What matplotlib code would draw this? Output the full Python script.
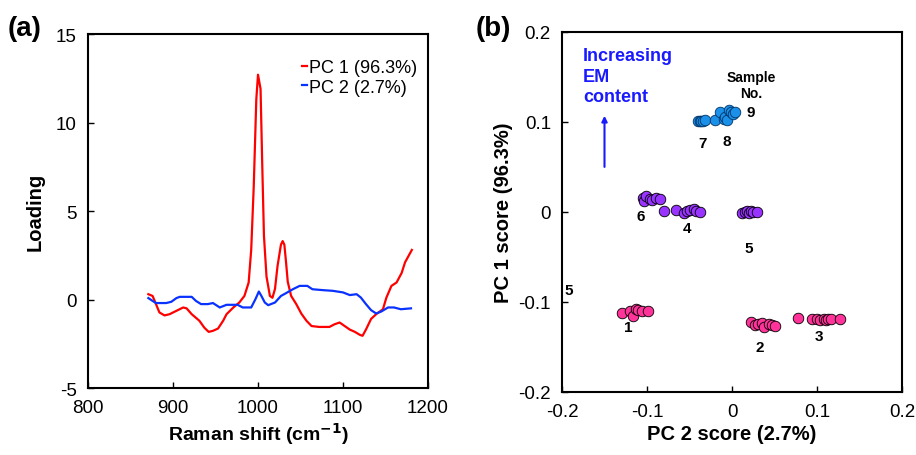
import numpy as np
import matplotlib.pyplot as plt

plt.rcParams['font.family'] = ['Liberation Sans', 'DejaVu Sans']
plt.rcParams['axes.unicode_minus'] = False

# -------------------------------------------
# Data
# -------------------------------------------
# (a) loadings
pc1_shift = [871, 876, 880, 884, 890, 896, 904, 912, 916, 922, 931, 937, 942, 947,
             953, 959, 963, 971, 978, 984, 989, 992, 995, 998, 1000, 1003, 1005,
             1007, 1010, 1014, 1017, 1020, 1023, 1027, 1029, 1031, 1033, 1035,
             1039, 1045, 1051, 1057, 1063, 1072, 1084, 1090, 1096, 1102, 1108,
             1114, 1120, 1123, 1127, 1133, 1139, 1147, 1151, 1157, 1163, 1169,
             1173, 1181]
pc1_load = [0.30, 0.2, -0.26, -0.73, -0.9, -0.83, -0.64, -0.45, -0.5, -0.83, -1.2,
            -1.6, -1.83, -1.77, -1.64, -1.2, -0.83, -0.45, -0.17, 0.2, 0.96, 2.8,
            6.4, 11.3, 12.7, 11.9, 7.6, 3.6, 1.3, 0.2, 0.1, 0.6, 1.9, 3.1, 3.3,
            3.1, 2.1, 1.0, 0.2, -0.26, -0.8, -1.2, -1.5, -1.55, -1.55, -1.4, -1.3,
            -1.5, -1.7, -1.83, -2.0, -2.05, -1.7, -1.1, -0.83, -0.55, 0.1, 0.77,
            0.96, 1.5, 2.1, 2.8]

pc2_shift = [871, 876, 880, 892, 898, 904, 908, 922, 927, 933, 941, 947, 955, 963,
             976, 982, 992, 997, 1001, 1004, 1008, 1012, 1020, 1027, 1033, 1041,
             1049, 1058, 1064, 1076, 1088, 1100, 1108, 1116, 1121, 1127, 1133,
             1139, 1145, 1153, 1160, 1168, 1180]
pc2_load = [0.08, -0.08, -0.2, -0.2, -0.13, 0.08, 0.15, 0.15, -0.08, -0.26, -0.26,
            -0.2, -0.45, -0.3, -0.3, -0.45, -0.45, 0.02, 0.45, 0.2, -0.17, -0.32,
            -0.17, 0.2, 0.36, 0.58, 0.77, 0.77, 0.58, 0.53, 0.49, 0.4, 0.25, 0.3,
            0.11, -0.26, -0.6, -0.79, -0.68, -0.45, -0.45, -0.55, -0.5]

# (b) scores: (PC 2, PC 1)
pink_pc2 = [-0.129, -0.120, -0.117, -0.113, -0.111, -0.106, -0.099,
            0.022, 0.027, 0.031, 0.035, 0.038, 0.043, 0.047, 0.051,
            0.078, 0.094, 0.100, 0.104, 0.108, 0.110, 0.113, 0.117, 0.127]
pink_pc1 = [-0.1125, -0.110, -0.1155, -0.108, -0.109, -0.110, -0.110,
            -0.122, -0.126, -0.124, -0.123, -0.1275, -0.124, -0.125, -0.1265,
            -0.118, -0.119, -0.119, -0.1195, -0.119, -0.120, -0.119, -0.1185, -0.119]

purple_pc2 = [-0.105, -0.103, -0.101, -0.097, -0.094, -0.090, -0.085,
              -0.080, -0.066, -0.056, -0.053, -0.049, -0.045, -0.042, -0.038,
              0.012, 0.015, 0.018, 0.020, 0.022, 0.025, 0.029]
purple_pc1 = [0.016, 0.012, 0.018, 0.014, 0.013, 0.016, 0.014,
              0.001, 0.002, -0.001, 0.001, 0.002, 0.003, 0.001, 0.000,
              -0.001, 0.000, 0.001, -0.001, 0.001, 0.000, 0.000]

blue_pc2 = [-0.040, -0.038, -0.036, -0.034, -0.032, -0.020, -0.014, -0.010,
            -0.008, -0.006, -0.004, -0.001, 0.001, 0.004]
blue_pc1 = [0.101, 0.101, 0.101, 0.1015, 0.102, 0.102, 0.111, 0.103,
            0.106, 0.102, 0.113, 0.111, 0.109, 0.111]

sample_no = ['1', '2', '3', '4', '5', '6', '7', '8', '9', '5']
sample_x = [-0.122, 0.0325, 0.1027, -0.053, 0.0196, -0.108, -0.0345, -0.0067, 0.0216, -0.192]
sample_y = [-0.1276, -0.1496, -0.1375, -0.018, -0.040, -0.004, 0.0768, 0.0787, 0.1107, -0.087]

# -------------------------------------------
# Figure
# -------------------------------------------
fig = plt.figure(figsize=(9.16, 4.56), dpi=100)
ax1 = fig.add_axes([88 / 916, 1 - 389 / 456, 340 / 916, 354 / 456])
ax2 = fig.add_axes([562 / 916, 1 - 393 / 456, 340 / 916, 360 / 456])

for ax in (ax1, ax2):
    for sp in ax.spines.values():
        sp.set_linewidth(1.5)
    ax.tick_params(direction='in', length=4, width=1, labelsize=13.5, pad=8)

# (a)
ax1.plot(pc1_shift, pc1_load, color='#ff0000', lw=1.6, label='PC 1 (96.3%)')
ax1.plot(pc2_shift, pc2_load, color='#0a32ff', lw=1.6, label='PC 2 (2.7%)')
ax1.set_xlim(800, 1200)
ax1.set_ylim(-5, 15)
ax1.set_xticks([800, 900, 1000, 1100, 1200])
ax1.set_yticks([-5, 0, 5, 10, 15])
ax1.set_xlabel(r'Raman shift (cm$^{\mathbf{-1}}$)', fontsize=14, fontweight='bold', labelpad=3)
ax1.set_ylabel('Loading', fontsize=14.5, fontweight='bold', labelpad=8)
ax1.legend(loc='upper right', frameon=False, handlelength=0.3, handletextpad=0.1,
           fontsize=13, labelspacing=0.15, bbox_to_anchor=(1.015, 0.975))
fig.text(8 / 916, 1 - 36 / 456, '(a)', fontsize=20, fontweight='bold')

# (b)
ax2.scatter(pink_pc2, pink_pc1, s=58, color='#ff3399', edgecolor='k', linewidth=0.6, zorder=3)
ax2.scatter(purple_pc2, purple_pc1, s=58, color='#9933ff', edgecolor='k', linewidth=0.6, zorder=3)
ax2.scatter(blue_pc2, blue_pc1, s=58, color='#1a90e8', edgecolor='#003366', linewidth=0.6, zorder=3)
ax2.set_xlim(-0.2, 0.2)
ax2.set_ylim(-0.2, 0.2)
ax2.set_xticks([-0.2, -0.1, 0, 0.1, 0.2])
ax2.set_yticks([-0.2, -0.1, 0, 0.1, 0.2])
ax2.set_xticklabels(['-0.2', '-0.1', '0', '0.1', '0.2'])
ax2.set_yticklabels(['-0.2', '-0.1', '0', '0.1', '0.2'])
ax2.set_xlabel('PC 2 score (2.7%)', fontsize=14.5, fontweight='bold', labelpad=3)
ax2.set_ylabel('PC 1 score (96.3%)', fontsize=14.5, fontweight='bold', labelpad=4)

for lab, x, y in zip(sample_no, sample_x, sample_y):
    ax2.text(x, y, lab, fontsize=11, fontweight='bold', ha='center', va='center')
ax2.text(0.0224, 0.141, 'Sample\nNo.', fontsize=10, fontweight='bold', ha='center',
         va='center', linespacing=1.15)
ax2.text(-0.175, 0.151, 'Increasing\nEM\ncontent', fontsize=13, fontweight='bold',
         color='#1a1aff', ha='left', va='center', linespacing=1.3)
ax2.annotate('', xy=(-0.150, 0.110), xytext=(-0.150, 0.047),
             arrowprops=dict(arrowstyle='-|>', color='#1a1aff', lw=1.5,
                             mutation_scale=8))
fig.text(476 / 916, 1 - 36 / 456, '(b)', fontsize=20, fontweight='bold')

fig.savefig('out.png', dpi=100)
